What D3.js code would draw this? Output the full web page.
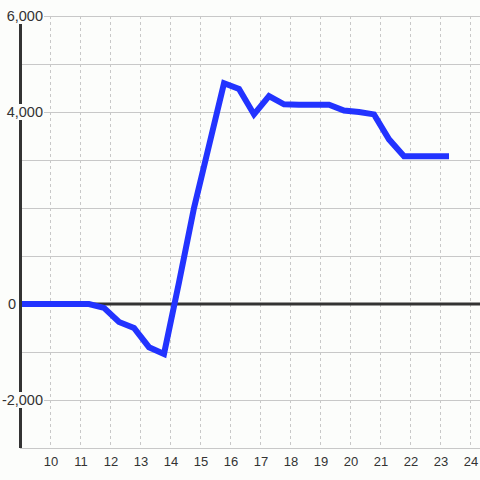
<!DOCTYPE html>
<html lang="en">
<head>
    <meta charset="UTF-8">
    <title>Line chart</title>
    <script src="https://d3js.org/d3.v7.min.js"></script>
    <style>
        body { margin: 0; background: #fcfdfb; }
        svg { display: block; background: #fcfdfb; }
        text { font-family: "Liberation Sans", Arial, sans-serif; fill: #333; }
    </style>
</head>
<body>
<svg width="480" height="480"></svg>
<script>
    // x positions (hours) and the plotted values
    const hours = [9.0, 9.3, 9.8, 10.3, 10.8, 11.3, 11.8, 12.3, 12.8, 13.3, 13.8, 14.3, 14.8, 15.3,
        15.8, 16.3, 16.8, 17.3, 17.8, 18.3, 18.8, 19.3, 19.8, 20.3, 20.8, 21.3, 21.8, 22.3, 22.8, 23.3];
    const values = [0, 0, 0, 0, 0, 0, -80, -375, -500, -900, -1040, 450, 2000, 3300,
        4600, 4480, 3950, 4330, 4160, 4150, 4150, 4150, 4030, 4000, 3950, 3430, 3080, 3080, 3080, 3080];
    const xTicks = [10, 11, 12, 13, 14, 15, 16, 17, 18, 19, 20, 21, 22, 23, 24];
    const yGrid = [-3000, -2000, -1000, 0, 1000, 2000, 3000, 4000, 5000, 6000];
    const yLabels = [-2000, 0, 4000, 6000];

    const data = hours.map((h, i) => ({h: h, v: values[i]}));

    const plot = {left: 20, right: 480, top: 16, bottom: 448};
    const x = d3.scaleLinear().domain([9, 24.333]).range([plot.left, plot.right]);
    const y = d3.scaleLinear().domain([-3000, 6000]).range([plot.bottom, plot.top]);

    const svg = d3.select("svg");

    // vertical dashed grid
    svg.append("g").selectAll("line").data(xTicks).join("line")
        .attr("x1", d => x(d) + 0.5).attr("x2", d => x(d) + 0.5)
        .attr("y1", plot.top).attr("y2", plot.bottom)
        .attr("stroke", "#c8c8c8").attr("stroke-dasharray", "3,3");

    // horizontal grid
    svg.append("g").selectAll("line").data(yGrid.filter(d => d !== 0)).join("line")
        .attr("x1", plot.left).attr("x2", plot.right)
        .attr("y1", d => y(d) + 0.5).attr("y2", d => y(d) + 0.5)
        .attr("stroke", "#c8c8c8");

    // zero line
    svg.append("line")
        .attr("x1", plot.left).attr("x2", plot.right)
        .attr("y1", y(0)).attr("y2", y(0))
        .attr("stroke", "#333").attr("stroke-width", 3);

    // the series
    const line = d3.line().x(d => x(d.h)).y(d => y(d.v));
    svg.append("path")
        .attr("d", line(data))
        .attr("fill", "none")
        .attr("stroke", "#2233ff")
        .attr("stroke-width", 6);

    // y axis line
    svg.append("line")
        .attr("x1", plot.left + 0.5).attr("x2", plot.left + 0.5)
        .attr("y1", plot.top).attr("y2", plot.bottom)
        .attr("stroke", "#333").attr("stroke-width", 3);

    // y labels with a background box (plain hyphen for the minus sign)
    const fmt = d => d3.format(",")(d).replace("\u2212", "-");
    const yl = svg.append("g").selectAll("g").data(yLabels).join("g")
        .attr("transform", d => "translate(" + (d === 0 ? 16 : 43) + "," + y(d) + ")");
    yl.filter(d => d !== 0).append("rect")
        .attr("x", d => -fmt(d).replace("-", "").length * 8 - (d < 0 ? 5 : 0) - 1)
        .attr("y", -8).attr("height", 16)
        .attr("width", d => fmt(d).replace("-", "").length * 8 + (d < 0 ? 5 : 0) + 2)
        .attr("fill", "#fcfdfb");
    yl.append("text")
        .attr("text-anchor", "end")
        .attr("dy", "0.35em")
        .style("font-size", "14.5px")
        .text(d => fmt(d));

    // x axis
    svg.append("line")
        .attr("x1", plot.left).attr("x2", plot.right)
        .attr("y1", plot.bottom + 0.5).attr("y2", plot.bottom + 0.5)
        .attr("stroke", "#c8c8c8");
    svg.append("g").selectAll("text").data(xTicks).join("text")
        .attr("x", d => x(d) + 1)
        .attr("y", 466)
        .attr("text-anchor", "middle")
        .style("font-size", "13px")
        .text(d => d);
</script>
</body>
</html>
